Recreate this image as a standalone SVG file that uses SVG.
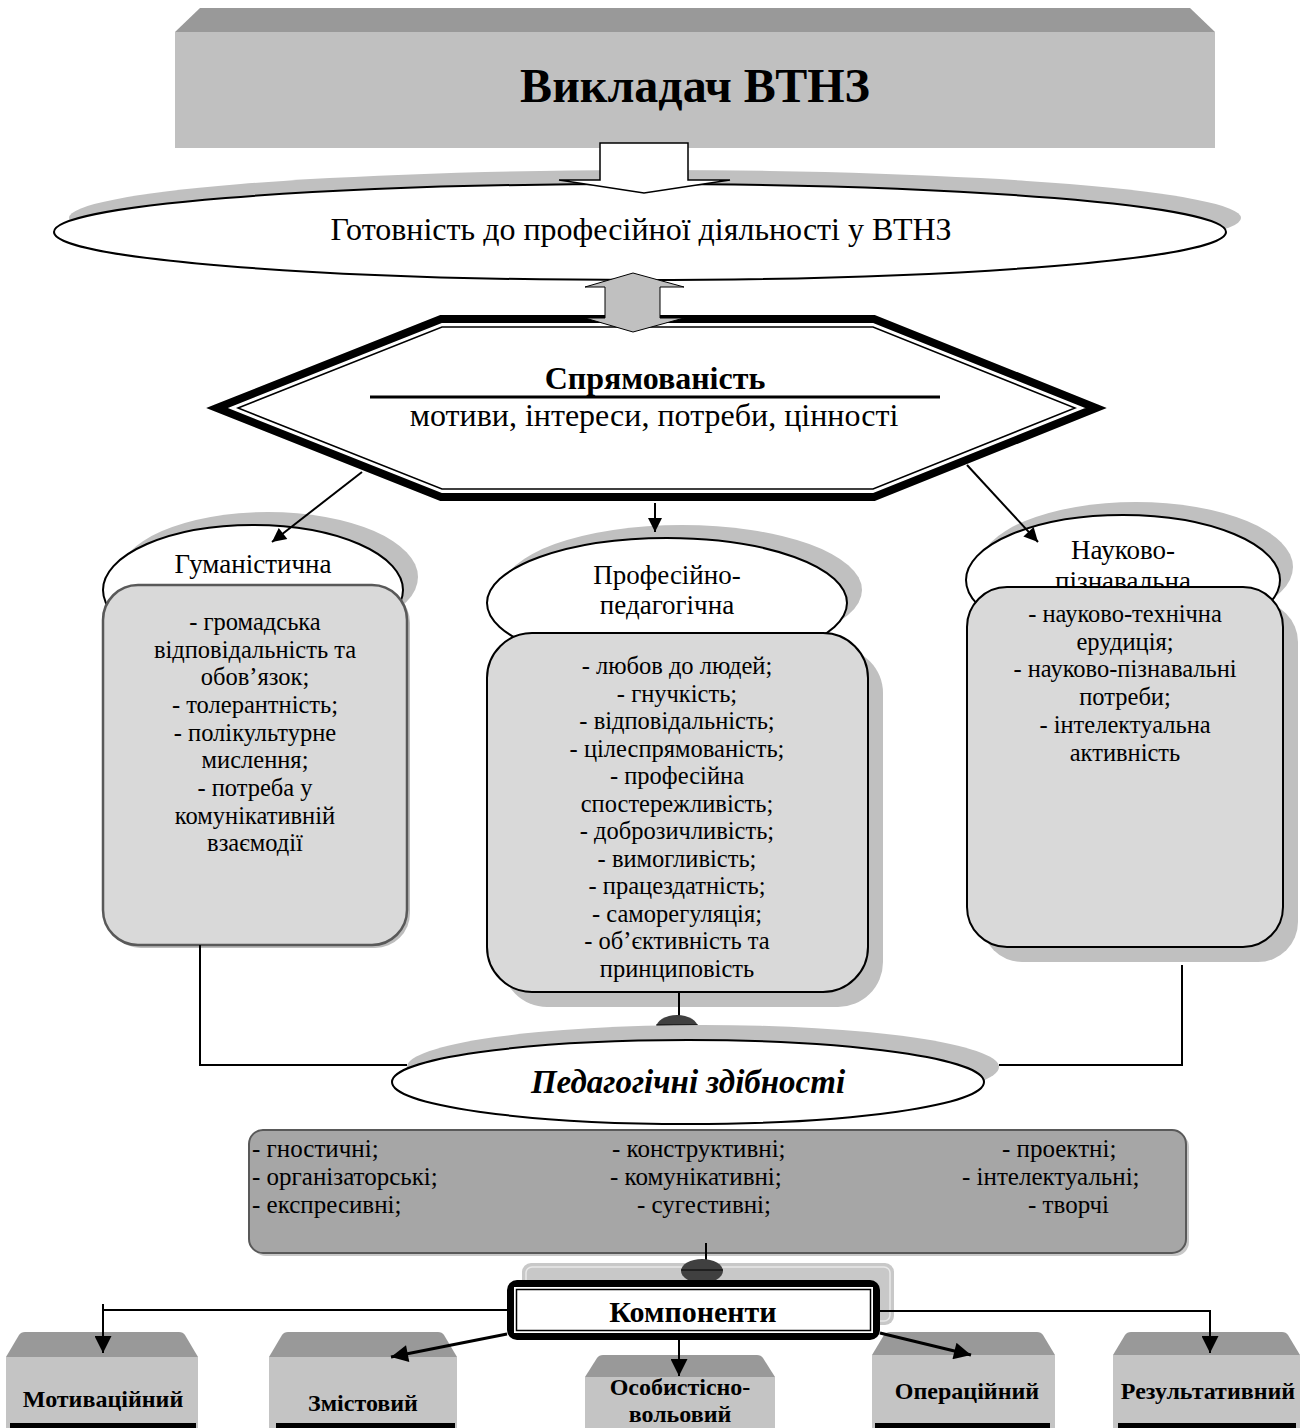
<svg xmlns="http://www.w3.org/2000/svg" width="1313" height="1428" viewBox="0 0 1313 1428">
  <defs>
    <style>
      text { font-family: "Liberation Serif", "Times New Roman", serif; fill: #000; }
      .c { text-anchor: middle; }
      .title { font-size: 48px; font-weight: bold; }
      .big { font-size: 32px; }
      .bigb { font-size: 32px; font-weight: bold; }
      .lbl { font-size: 27px; }
      .item { font-size: 24.5px; }
      .abl { font-size: 25px; }
      .comp { font-size: 24px; font-weight: bold; }
      .shade { fill: #c0c0c0; }
      .oval { fill: #fff; stroke: #000; stroke-width: 2; }
      .card { fill: #d9d9d9; stroke: #000; stroke-width: 2; }
      .bevel { fill: #999; }
      .face { fill: #c4c4c4; }
      .bar { fill: #000; }
      .ln { fill: none; stroke: #000; stroke-width: 2; }
      .lnk { fill: none; stroke: #000; stroke-width: 3; }
      .dot { fill: #404040; }
    </style>
    <marker id="ah" viewBox="0 0 10 10" refX="10" refY="5" markerWidth="18" markerHeight="14" markerUnits="userSpaceOnUse" orient="auto">
      <path d="M0,0 L10,5 L0,10 Z" fill="#000"/>
    </marker>
    <marker id="ahb" viewBox="0 0 10 10" refX="10" refY="5" markerWidth="22" markerHeight="17" markerUnits="userSpaceOnUse" orient="auto">
      <path d="M0,0 L10,5 L0,10 Z" fill="#000"/>
    </marker>
    <clipPath id="outsideShade">
      <path clip-rule="evenodd" d="M0,0H1313V1428H0Z M407,1067 a296,42 0 1,0 592,0 a296,42 0 1,0 -592,0 Z"/>
    </clipPath>
    <clipPath id="aboveComp">
      <rect x="0" y="0" width="1313" height="1280"/>
    </clipPath>
  </defs>

  <!-- Викладач ВТНЗ: block with bevelled top -->
  <g id="teacher">
    <path class="bevel" d="M175,32 L200,8 L1190,8 L1215,32 Z"/>
    <rect x="175" y="32" width="1040" height="116" fill="#c0c0c0"/>
    <text class="title c" x="695" y="102">Викладач ВТНЗ</text>
  </g>

  <!-- Готовність ellipse -->
  <g id="readiness">
    <ellipse class="shade" cx="655" cy="218" rx="586" ry="48"/>
    <ellipse class="oval" cx="640" cy="232" rx="586" ry="48" stroke-width="1.5"/>
    <text class="big c" x="641" y="240">Готовність до професійної діяльності у ВТНЗ</text>
  </g>

  <!-- hollow block arrow from the teacher block -->
  <g id="arrow-down">
    <path d="M600,143 H688 V180 H730 L644,193 L559,180 H600 Z" fill="#fff" stroke="#000" stroke-width="1.5"/>
  </g>

  <!-- Спрямованість hexagon with double frame -->
  <g id="orientation">
    <polygon points="206,408 440,315 875,315 1107,408 875,501 440,501" fill="#fff"/>
    <polygon points="217,408 441,319 874,319 1096,408 874,497 441,497" fill="none" stroke="#000" stroke-width="8" stroke-linejoin="miter"/>
    <polygon points="238,408 442,327 873,327 1075,408 873,489 442,489" fill="none" stroke="#000" stroke-width="1.5"/>
    <text class="bigb c" x="655" y="389">Спрямованість</text>
    <line x1="370" y1="397" x2="940" y2="397" stroke="#000" stroke-width="3"/>
    <text class="big c" x="654" y="426">мотиви, інтереси, потреби, цінності</text>
  </g>

  <!-- grey two-way arrow between readiness and orientation -->
  <g id="arrow-both">
    <path d="M633,273 L684,287 H660 V318 H684 L633,332 L585,318 H605 V287 H585 Z" fill="#c0c0c0" stroke="#000" stroke-width="1"/>
  </g>

  <!-- Гуманістична -->
  <g id="humanistic">
    <ellipse class="shade" cx="268" cy="577" rx="150" ry="65"/>
    <ellipse class="oval" cx="253" cy="590" rx="150" ry="65"/>
    <text class="lbl c" x="253" y="573">Гуманістична</text>
    <rect x="106" y="588" width="304" height="360" rx="35" fill="#bdbdbd"/>
    <rect x="103" y="585" width="304" height="360" rx="35" fill="#d9d9d9" stroke="#595959" stroke-width="2.5"/>
    <g class="item c">
      <text x="255" y="630">- громадська</text>
      <text x="255" y="658">відповідальність та</text>
      <text x="255" y="685">обов’язок;</text>
      <text x="255" y="713">- толерантність;</text>
      <text x="255" y="741">- полікультурне</text>
      <text x="255" y="768">мислення;</text>
      <text x="255" y="796">- потреба у</text>
      <text x="255" y="824">комунікативній</text>
      <text x="255" y="851">взаємодії</text>
    </g>
  </g>

  <!-- Професійно-педагогічна -->
  <g id="professional">
    <ellipse class="shade" cx="682" cy="590" rx="180" ry="65"/>
    <ellipse class="oval" cx="667" cy="603" rx="180" ry="65"/>
    <text class="lbl c" x="667" y="584">Професійно-</text>
    <text class="lbl c" x="667" y="614">педагогічна</text>
    <rect class="shade" x="502" y="648" width="381" height="359" rx="45"/>
    <rect class="card" x="487" y="633" width="381" height="359" rx="45"/>
    <g class="item c">
      <text x="677" y="674">- любов до людей;</text>
      <text x="677" y="701.5">- гнучкість;</text>
      <text x="677" y="729">- відповідальність;</text>
      <text x="677" y="756.5">- цілеспрямованість;</text>
      <text x="677" y="784">- професійна</text>
      <text x="677" y="811.5">спостережливість;</text>
      <text x="677" y="839">- доброзичливість;</text>
      <text x="677" y="866.5">- вимогливість;</text>
      <text x="677" y="894">- працездатність;</text>
      <text x="677" y="921.5">- саморегуляція;</text>
      <text x="677" y="949">- об’єктивність та</text>
      <text x="677" y="976.5">принциповість</text>
    </g>
  </g>

  <!-- Науково-пізнавальна -->
  <g id="scientific">
    <ellipse class="shade" cx="1136" cy="567" rx="157" ry="65"/>
    <ellipse class="oval" cx="1123" cy="580" rx="157" ry="65"/>
    <text class="lbl c" x="1123" y="559">Науково-</text>
    <text class="lbl c" x="1123" y="590">пізнавальна</text>
    <rect class="shade" x="982" y="602" width="316" height="360" rx="40"/>
    <rect class="card" x="967" y="587" width="316" height="360" rx="40"/>
    <g class="item c">
      <text x="1125" y="622">- науково-технічна</text>
      <text x="1125" y="649.5">ерудиція;</text>
      <text x="1125" y="677">- науково-пізнавальні</text>
      <text x="1125" y="705">потреби;</text>
      <text x="1125" y="733">- інтелектуальна</text>
      <text x="1125" y="761">активність</text>
    </g>
  </g>

  <!-- Педагогічні здібності -->
  <g id="abilities">
    <ellipse class="shade" cx="703" cy="1067" rx="296" ry="42"/>
    <ellipse class="oval" cx="688" cy="1082" rx="296" ry="42" stroke-width="1.5"/>
    <text class="c" x="688" y="1093" font-size="33" font-weight="bold" font-style="italic">Педагогічні здібності</text>
  </g>

  <!-- list of abilities -->
  <g id="abilities-list">
    <rect x="252" y="1133" width="937" height="123" rx="14" fill="#c8c8c8"/>
    <rect x="249" y="1130" width="937" height="123" rx="14" fill="#a6a6a6" stroke="#595959" stroke-width="2"/>
    <g class="abl">
      <text x="252" y="1157">- гностичні;</text>
      <text x="252" y="1185">- організаторські;</text>
      <text x="252" y="1213">- експресивні;</text>
      <text x="612" y="1157">- конструктивні;</text>
      <text x="610" y="1185">- комунікативні;</text>
      <text x="637" y="1213">- сугестивні;</text>
      <text x="1002" y="1157">- проектні;</text>
      <text x="962" y="1185">- інтелектуальні;</text>
      <text x="1028" y="1213">- творчі</text>
    </g>
  </g>

  <!-- Компоненти backing plate -->
  <g id="components">
    <rect x="522" y="1263" width="372" height="62" rx="9" fill="#c8c8c8"/>
    <rect x="526" y="1267" width="364" height="54" rx="6" fill="none" stroke="#e8e8e8" stroke-width="1.5"/>
  </g>

  <!-- component blocks -->
  <g id="motivational">
    <path class="bevel" d="M6,1357 L19,1335 Q21,1332 25,1332 H179 Q183,1332 185,1335 L198,1357 Z"/>
    <rect class="face" x="6" y="1357" width="192" height="75"/>
    <rect class="bar" x="10" y="1423" width="186" height="5"/>
    <text class="comp c" x="103" y="1407">Мотиваційний</text>
  </g>
  <g id="content">
    <path class="bevel" d="M269,1357 L282,1335 Q284,1332 288,1332 H438 Q442,1332 444,1335 L457,1357 Z"/>
    <rect class="face" x="269" y="1357" width="188" height="75"/>
    <rect class="bar" x="276" y="1423" width="179" height="5"/>
    <text class="comp c" x="363" y="1411">Змістовий</text>
  </g>
  <g id="personal">
    <path class="bevel" d="M585,1377 L597,1358 Q599,1355 603,1355 H757 Q761,1355 763,1358 L775,1377 Z"/>
    <rect class="face" x="585" y="1377" width="190" height="55"/>
    <text class="comp c" x="680" y="1395">Особистісно-</text>
    <text class="comp c" x="680" y="1422">вольовий</text>
  </g>
  <g id="operational">
    <path class="bevel" d="M872,1355 L884,1335 Q886,1332 890,1332 H1037 Q1041,1332 1043,1335 L1055,1355 Z"/>
    <rect class="face" x="872" y="1355" width="183" height="77"/>
    <rect class="bar" x="875" y="1423" width="175" height="5"/>
    <text class="comp c" x="967" y="1399">Операційний</text>
  </g>
  <g id="resultative">
    <path class="bevel" d="M1113,1355 L1125,1335 Q1127,1332 1131,1332 H1282 Q1286,1332 1288,1335 L1300,1355 Z"/>
    <rect class="face" x="1113" y="1355" width="187" height="77"/>
    <rect class="bar" x="1118" y="1423" width="178" height="5"/>
    <text class="comp c" x="1208" y="1399">Результативний</text>
  </g>

  <!-- connectors -->
  <g id="connectors">
    <line class="ln" x1="362" y1="472" x2="272" y2="542" marker-end="url(#ah)"/>
    <line class="ln" x1="655" y1="503" x2="655" y2="532" marker-end="url(#ah)"/>
    <line class="ln" x1="967" y1="465" x2="1038" y2="542" marker-end="url(#ah)"/>

    <polyline class="ln" points="200,945 200,1065 407,1065"/>
    <polyline class="ln" points="999,1065 1182,1065 1182,965"/>
    <line class="ln" x1="679" y1="992" x2="679" y2="1022"/>
    <g clip-path="url(#outsideShade)">
      <ellipse class="dot" cx="677" cy="1028" rx="21" ry="13"/>
      <line x1="656" y1="1025" x2="698" y2="1025" stroke="#000" stroke-width="1"/>
    </g>

    <line class="ln" x1="706" y1="1243" x2="706" y2="1262"/>
    <g clip-path="url(#aboveComp)">
      <ellipse class="dot" cx="702" cy="1271" rx="21" ry="12"/>
      <line x1="681" y1="1270" x2="723" y2="1270" stroke="#000" stroke-width="1"/>
    </g>
  </g>

  <!-- Компоненти frame drawn over the stub -->
  <g id="components-frame">
    <rect x="507" y="1280" width="373" height="60" rx="10" fill="#000"/>
    <rect x="514" y="1287" width="359" height="46" fill="#fff"/>
    <rect x="516.5" y="1289.5" width="354" height="41" fill="none" stroke="#000" stroke-width="1.5"/>
    <text class="c" x="693" y="1322" font-size="30" font-weight="bold">Компоненти</text>
  </g>

  <!-- arrows to the component blocks -->
  <g id="component-arrows">
    <polyline class="ln" points="507,1310 103,1310 103,1353" marker-end="url(#ahb)"/>
    <line class="ln" x1="103" y1="1304" x2="103" y2="1312"/>
    <line class="lnk" x1="507" y1="1334" x2="391" y2="1357" marker-end="url(#ahb)"/>
    <line class="ln" x1="679" y1="1340" x2="679" y2="1376" marker-end="url(#ahb)"/>
    <line class="lnk" x1="880" y1="1333" x2="971" y2="1355" marker-end="url(#ahb)"/>
    <polyline class="ln" points="880,1311 1210,1311 1210,1353" marker-end="url(#ahb)"/>
  </g>
</svg>
